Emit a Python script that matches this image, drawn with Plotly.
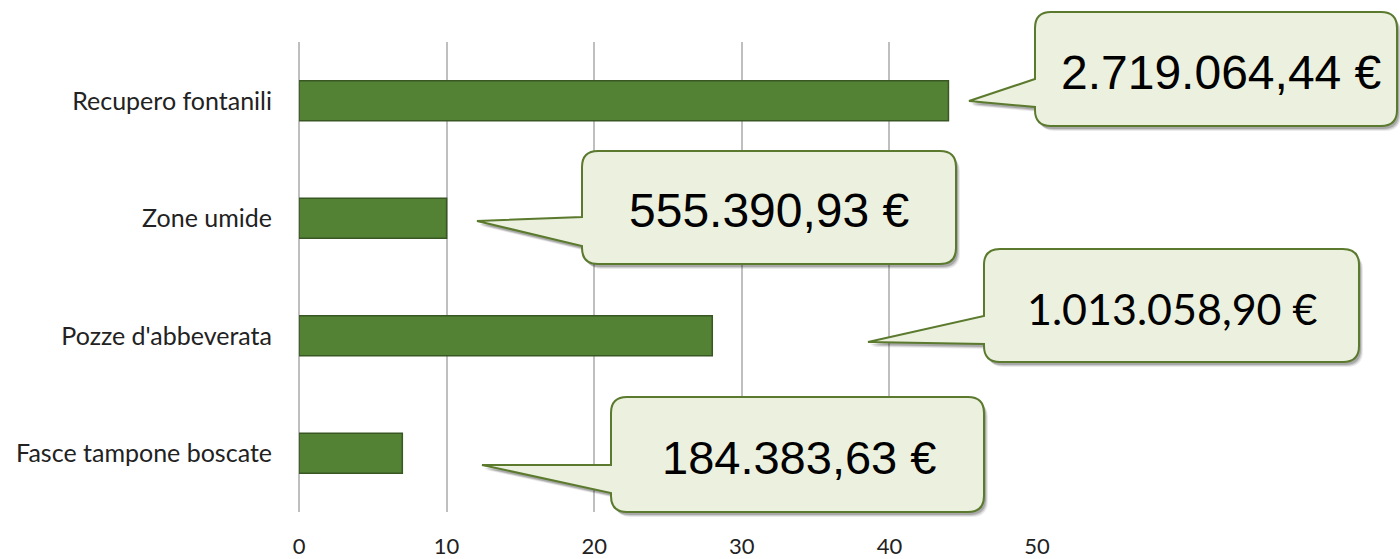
import plotly.graph_objects as go

categories = ["Recupero fontanili", "Zone umide", "Pozze d'abbeverata", "Fasce tampone boscate"]
values = [44, 10, 28, 7]
callout_labels = ["2.719.064,44 €", "555.390,93 €", "1.013.058,90 €", "184.383,63 €"]
x_ticks = [0, 10, 20, 30, 40, 50]

W, H = 1400, 559
ML, MR, MT, MB = 299, 363, 42, 47
PW, PH = W - ML - MR, H - MT - MB

# callout geometry in pixels: box (L, T, R, B), tail joins y1, y2, tip (tx, ty)
callouts = [
    dict(box=(1035, 12, 1397, 126), y1=79, y2=107, tip=(969, 101), font="Liberation Sans", size=48, dx=5),
    dict(box=(582, 151, 956, 264), y1=217, y2=246, tip=(477, 221), font="Liberation Sans", size=48, dx=0),
    dict(box=(984, 249, 1359, 362), y1=316, y2=344, tip=(868, 342), font="Lato", size=43, dx=1),
    dict(box=(611, 397, 984, 512), y1=465, y2=493, tip=(482, 465), font="Liberation Sans", size=47, dx=1),
]

def px(x):
    return (x - ML) / PW

def py(y):
    return (MT + PH - y) / PH

def bubble_path(c, dx=0, dy=0):
    L, T, R, B = c["box"]
    L += dx; R += dx; T += dy; B += dy
    y1, y2 = c["y1"] + dy, c["y2"] + dy
    tx, ty = c["tip"][0] + dx, c["tip"][1] + dy
    r = 16
    pts = []
    def P(cmd, *coords):
        s = cmd
        for i in range(0, len(coords), 2):
            s += f" {px(coords[i]):.5f},{py(coords[i+1]):.5f}"
        pts.append(s)
    P("M", L + r, T)
    P("L", R - r, T)
    P("Q", R, T, R, T + r)
    P("L", R, B - r)
    P("Q", R, B, R - r, B)
    P("L", L + r, B)
    P("Q", L, B, L, B - r)
    P("L", L, y2)
    P("L", tx, ty)
    P("L", L, y1)
    P("L", L, T + r)
    P("Q", L, T, L + r, T)
    return " ".join(pts) + " Z"

fig = go.Figure()
fig.add_trace(go.Bar(
    y=categories, x=values, orientation="h", width=0.34,
    marker=dict(color="#548235", line=dict(color="#385723", width=1.5)),
    hoverinfo="skip",
))

shapes = []
annotations = []
for c, lab in zip(callouts, callout_labels):
    for (dx, dy, op) in [(4, 5, 0.08), (3, 4, 0.12), (2, 3, 0.18)]:
        shapes.append(dict(type="path", xref="paper", yref="paper", path=bubble_path(c, dx, dy),
                           fillcolor=f"rgba(0,0,0,{op})", line=dict(width=0), layer="above"))
    shapes.append(dict(type="path", xref="paper", yref="paper", path=bubble_path(c),
                       fillcolor="#EBF1DE", line=dict(color="#5B7A2E", width=2), layer="above"))
    L, T, R, B = c["box"]
    annotations.append(dict(
        xref="paper", yref="paper", x=px((L + R) / 2 + c["dx"]), y=py((T + B) / 2 + 3),
        text=lab, showarrow=False, xanchor="center", yanchor="middle",
        font=dict(family=c["font"], size=c["size"], color="#000000"),
    ))

fig.update_layout(
    width=W, height=H,
    margin=dict(l=ML, r=MR, t=MT, b=MB, autoexpand=False),
    paper_bgcolor="white", plot_bgcolor="white",
    showlegend=False,
    shapes=shapes, annotations=annotations,
    xaxis=dict(range=[0, 50], tickvals=x_ticks, ticktext=[str(t) for t in x_ticks],
               showgrid=True, gridcolor="#BFBFBF", gridwidth=2,
               zeroline=True, zerolinecolor="#BFBFBF", zerolinewidth=2,
               showline=False, ticks="", ticklabelstandoff=19, automargin=False,
               tickfont=dict(family="Lato", size=22, color="#222222"), fixedrange=True),
    yaxis=dict(categoryorder="array", categoryarray=categories[::-1],
               range=[-0.5, 3.5], showgrid=False, zeroline=False, showline=False,
               ticks="", ticklabelstandoff=26, automargin=False,
               tickfont=dict(family="Lato", size=25, color="#222222"), fixedrange=True),
)

fig.write_html("out.html", config={"displayModeBar": False, "staticPlot": True},
               post_script="document.body.style.margin='0';document.body.style.overflow='hidden';")
